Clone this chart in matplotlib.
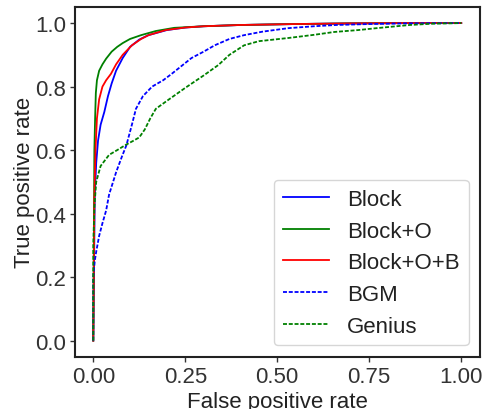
import matplotlib
matplotlib.use('Agg')
import matplotlib.pyplot as plt

plt.rcParams['font.family'] = ['Liberation Sans', 'DejaVu Sans']
plt.rcParams['text.color'] = '#222222'
plt.rcParams['axes.labelcolor'] = '#222222'
plt.rcParams['xtick.color'] = '#333333'
plt.rcParams['ytick.color'] = '#333333'

# ROC curves (false positive rate, true positive rate)
block_fpr = [0, 0.004, 0.008, 0.013, 0.02, 0.03, 0.04, 0.05, 0.062, 0.08, 0.1, 0.125, 0.15, 0.2, 0.25, 0.3, 0.4, 0.55, 0.7, 0.85, 1.0]
block_tpr = [0, 0.45, 0.56, 0.63, 0.68, 0.72, 0.77, 0.81, 0.85, 0.89, 0.925, 0.948, 0.962, 0.978, 0.986, 0.99, 0.994, 0.997, 0.999, 1.0, 1.0]

blocko_fpr = [0, 0.002, 0.003, 0.005, 0.007, 0.01, 0.016, 0.025, 0.035, 0.05, 0.065, 0.08, 0.1, 0.13, 0.17, 0.22, 0.3, 0.4, 0.55, 0.7, 0.85, 1.0]
blocko_tpr = [0, 0.4, 0.6, 0.7, 0.78, 0.82, 0.85, 0.87, 0.888, 0.91, 0.925, 0.937, 0.95, 0.962, 0.975, 0.985, 0.99, 0.994, 0.997, 0.999, 1.0, 1.0]

blockob_fpr = [0, 0.003, 0.006, 0.01, 0.016, 0.025, 0.035, 0.048, 0.062, 0.08, 0.105, 0.13, 0.15, 0.197, 0.25, 0.3, 0.4, 0.55, 0.7, 0.85, 1.0]
blockob_tpr = [0, 0.45, 0.6, 0.7, 0.76, 0.8, 0.82, 0.84, 0.87, 0.9, 0.93, 0.95, 0.962, 0.978, 0.986, 0.99, 0.994, 0.997, 0.999, 1.0, 1.0]

bgm_fpr = [0, 0.0, 0.004, 0.008, 0.016, 0.025, 0.035, 0.043, 0.062, 0.078, 0.09, 0.105, 0.116, 0.135, 0.16, 0.19, 0.213, 0.24, 0.267, 0.3, 0.33, 0.37, 0.41, 0.46, 0.53, 0.6, 0.66, 0.75, 0.85, 1.0]
bgm_tpr = [0, 0.2, 0.25, 0.28, 0.33, 0.37, 0.41, 0.46, 0.53, 0.58, 0.615, 0.68, 0.73, 0.77, 0.8, 0.82, 0.84, 0.865, 0.89, 0.91, 0.93, 0.95, 0.962, 0.973, 0.984, 0.99, 0.994, 0.997, 0.999, 1.0]

genius_fpr = [0, 0.0, 0.003, 0.008, 0.02, 0.043, 0.065, 0.089, 0.11, 0.125, 0.14, 0.155, 0.17, 0.2, 0.25, 0.3, 0.34, 0.37, 0.41, 0.45, 0.53, 0.6, 0.655, 0.72, 0.77, 0.86, 0.92, 1.0]
genius_tpr = [0, 0.3, 0.42, 0.5, 0.55, 0.585, 0.6, 0.617, 0.63, 0.64, 0.665, 0.7, 0.73, 0.755, 0.796, 0.835, 0.868, 0.9, 0.93, 0.943, 0.953, 0.963, 0.972, 0.978, 0.984, 0.994, 0.998, 1.0]

xticks = [0.0, 0.25, 0.5, 0.75, 1.0]
yticks = [0.0, 0.2, 0.4, 0.6, 0.8, 1.0]

fig = plt.figure(figsize=(4.83, 4.1), dpi=100)
ax = fig.add_axes([0.155, 0.128, 0.838, 0.852])

dash = (2.2, 1.0)
lw = 1.3
ax.plot(block_fpr, block_tpr, c='blue', lw=lw, label='Block')
ax.plot(blocko_fpr, blocko_tpr, c='green', lw=lw, label='Block+O')
ax.plot(blockob_fpr, blockob_tpr, c='red', lw=lw, label='Block+O+B')
ax.plot(bgm_fpr, bgm_tpr, c='blue', lw=lw, ls=(0, dash), label='BGM')
ax.plot(genius_fpr, genius_tpr, c='green', lw=lw, ls=(0, dash), label='Genius')

ax.set_xticks(xticks)
ax.set_yticks(yticks)
ax.set_xticklabels(['%.2f' % t for t in xticks])
ax.set_yticklabels(['%.1f' % t for t in yticks])
ax.tick_params(labelsize=16, length=3.5, width=1, pad=3)

for s in ax.spines.values():
    s.set_linewidth(1.5)
    s.set_color('#222222')

ax.set_xlabel('False positive rate', fontsize=16, labelpad=3)
ax.set_ylabel('True positive rate', fontsize=16, labelpad=0)

leg = ax.legend(loc='lower right', fontsize=16, labelspacing=0.48,
                handlelength=2.1, borderpad=0.4, fancybox=True)
leg.get_frame().set_edgecolor('#cccccc')

fig.savefig('out.png', dpi=100)
